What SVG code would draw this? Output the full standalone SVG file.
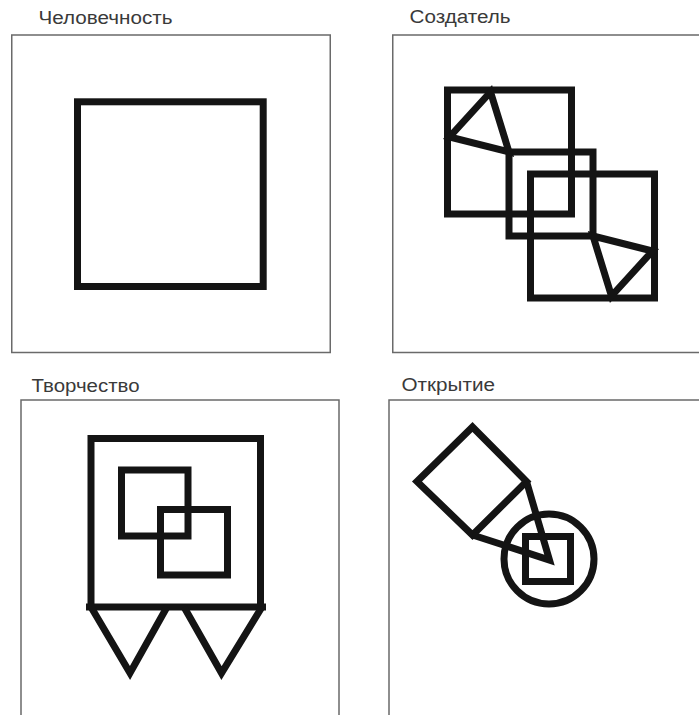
<svg xmlns="http://www.w3.org/2000/svg" width="699" height="715" viewBox="0 0 699 715">
<style>
.frame{fill:none;stroke:#6a6a6a;stroke-width:1.5}
.shape{fill:none;stroke:#141414;stroke-width:7;stroke-linejoin:miter;stroke-miterlimit:10}
.tri{stroke-miterlimit:2.2}
.label{font-family:"Liberation Sans",Arial,sans-serif;font-size:18px;fill:#3a3a3a}
</style>
<rect width="699" height="715" fill="#ffffff"/>
<g id="panel-humanity">
<text class="label" x="38.5" y="24" textLength="134" lengthAdjust="spacingAndGlyphs">Человечность</text>
<rect class="frame" x="11.75" y="35" width="318.5" height="317.5"/>
<rect class="shape" x="77.5" y="101.8" width="185.7" height="184.7"/>
</g>
<g id="panel-creator">
<text class="label" x="409.5" y="23" textLength="101" lengthAdjust="spacingAndGlyphs">Создатель</text>
<path class="frame" d="M701,35 H392.75 V352.5 H701"/>
<rect class="shape" x="447.5" y="90" width="124" height="124"/>
<rect class="shape" x="509" y="152" width="84" height="84"/>
<rect class="shape" x="530.5" y="174" width="124" height="124"/>
<polygon class="shape tri" points="490.5,92 449.5,137 509,152"/>
<polygon class="shape tri" points="611.5,296 652.5,251 593,236"/>
</g>
<g id="panel-creativity">
<text class="label" x="31.5" y="391.5" textLength="108" lengthAdjust="spacingAndGlyphs">Творчество</text>
<path class="frame" d="M21,720 V400 H339 V720"/>
<path class="shape" d="M91,607.5 V438.5 H260.5 V607.5"/>
<line class="shape" x1="86" y1="607" x2="266" y2="607"/>
<rect class="shape" x="121.5" y="470" width="66.5" height="66"/>
<rect class="shape" x="160.5" y="509.5" width="67" height="65.5"/>
<polyline class="shape" points="91,607 130,673 167,607"/>
<polyline class="shape" points="184,607 221.5,673 262,607"/>
</g>
<g id="panel-discovery">
<text class="label" x="401.5" y="391" textLength="93.5" lengthAdjust="spacingAndGlyphs">Открытие</text>
<path class="frame" d="M701,400 H389 V720"/>
<polygon class="shape" points="472.5,427 526.5,481.5 472.5,535 417,481.5"/>
<circle class="shape" cx="549" cy="559" r="45"/>
<rect class="shape" x="525.5" y="536.5" width="45" height="45"/>
<polyline class="shape" points="526.5,481.5 549.5,560 472.5,535"/>
</g>
</svg>
